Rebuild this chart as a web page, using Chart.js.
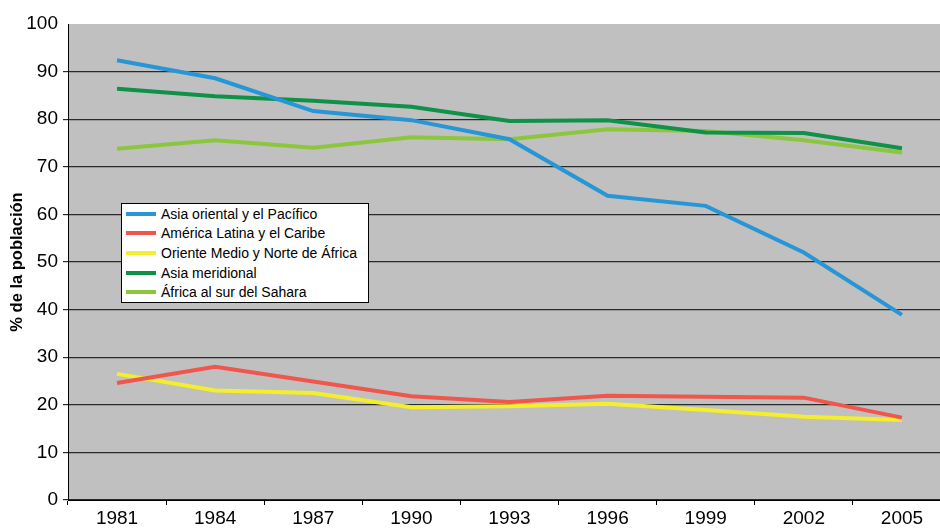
<!DOCTYPE html>
<html>
<head>
<meta charset="utf-8">
<script src="https://cdn.jsdelivr.net/npm/chart.js@4/dist/chart.umd.min.js"></script>
<style>
  html, body { margin: 0; padding: 0; background: #fff; overflow: hidden; }
  #wrap { position: relative; width: 952px; height: 528px; }
  #legend {
    position: absolute; left: 121px; top: 203px; width: 246px; height: 98px;
    background: #fff; border: 1px solid #000;
    font-family: 'Liberation Sans', Arial, sans-serif; font-size: 14px; color: #000;
  }
  #legend .row { height: 19.6px; display: flex; align-items: center; white-space: nowrap; }
  #legend .sw { width: 30px; height: 4px; margin: 0 5px 0 4px; }
</style>
</head>
<body>
<div id="wrap">
  <canvas id="c" width="952" height="528"></canvas>
  <div id="legend"></div>
</div>
<script>
  // Datos
  var years = ['1981', '1984', '1987', '1990', '1993', '1996', '1999', '2002', '2005'];
  var seriesNames = [
    'Asia oriental y el Pacífico',
    'América Latina y el Caribe',
    'Oriente Medio y Norte de África',
    'Asia meridional',
    'África al sur del Sahara'
  ];
  var asiaOriental = [92.4, 88.6, 81.7, 79.8, 75.8, 63.9, 61.8, 52.0, 38.9];
  var americaLatina = [24.6, 28.0, 24.9, 21.8, 20.6, 21.9, 21.7, 21.5, 17.3];
  var orienteMedio = [26.5, 23.0, 22.5, 19.5, 19.7, 20.2, 18.9, 17.5, 16.8];
  var asiaMeridional = [86.4, 84.8, 83.9, 82.6, 79.6, 79.8, 77.2, 77.1, 73.9];
  var africaSur = [73.8, 75.6, 74.0, 76.2, 75.8, 77.9, 77.5, 75.6, 73.0];
  var colors = ['#2696d6', '#f0564c', '#f4ee2c', '#0f9148', '#8cc63e'];

  var values = [asiaOriental, americaLatina, orienteMedio, asiaMeridional, africaSur];

  var plotBg = {
    id: 'plotBg',
    beforeDraw: function (chart) {
      var a = chart.chartArea;
      var ctx = chart.ctx;
      ctx.save();
      ctx.fillStyle = '#c0c0c0';
      ctx.fillRect(a.left, a.top, a.right - a.left, a.bottom - a.top);
      ctx.restore();
    }
  };

  var font = "'Liberation Sans', Arial, sans-serif";

  var chart = new Chart(document.getElementById('c').getContext('2d'), {
    type: 'line',
    data: {
      labels: years,
      datasets: values.map(function (v, i) {
        return {
          label: seriesNames[i],
          data: v,
          borderColor: colors[i],
          backgroundColor: colors[i],
          borderWidth: 4,
          pointRadius: 0,
          tension: 0,
          fill: false
        };
      })
    },
    options: {
      responsive: false,
      animation: false,
      layout: { padding: { top: 24, right: 1, left: 0, bottom: 0 } },
      scales: {
        x: {
          offset: true,
          grid: {
            offset: true,
            drawOnChartArea: false,
            drawTicks: true,
            tickLength: 5,
            color: '#000'
          },
          border: { color: '#000', width: 1 },
          ticks: { color: '#000', font: { family: font, size: 19 }, padding: 2, maxRotation: 0 },
          afterFit: function (s) { s.height = 28; }
        },
        y: {
          min: 0,
          max: 100,
          ticks: { stepSize: 10, color: '#000', font: { family: font, size: 19 }, padding: 5 },
          grid: {
            color: function (c) { return c.tick && c.tick.value === 100 ? 'rgba(0,0,0,0)' : '#2a2a2a'; },
            lineWidth: 1.2,
            tickLength: 5
          },
          border: { color: '#000', width: 1 },
          title: {
            display: true,
            text: '% de la población',
            color: '#000',
            font: { family: font, size: 16.5, weight: 'bold' },
            padding: { top: 8, bottom: 0 }
          },
          afterFit: function (s) { s.width = 68; }
        }
      },
      plugins: {
        legend: { display: false },
        tooltip: { enabled: false }
      }
    },
    plugins: [plotBg]
  });

  // Leyenda HTML construida a partir de los datasets
  var leg = document.getElementById('legend');
  chart.data.datasets.forEach(function (ds) {
    var row = document.createElement('div');
    row.className = 'row';
    var sw = document.createElement('span');
    sw.className = 'sw';
    sw.style.background = ds.borderColor;
    row.appendChild(sw);
    row.appendChild(document.createTextNode(ds.label));
    leg.appendChild(row);
  });
</script>
</body>
</html>
